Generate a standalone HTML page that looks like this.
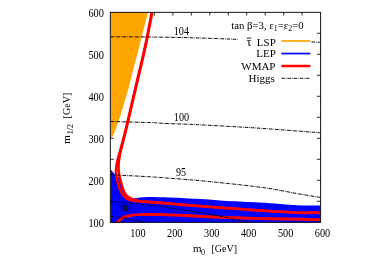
<!DOCTYPE html>
<html><head><meta charset="utf-8">
<style>
html,body{margin:0;padding:0;background:#fff;}
body{width:382px;height:267px;overflow:hidden;}
svg{display:block;will-change:transform;}
text{font-family:"Liberation Serif",serif;fill:#000;}
</style></head><body>
<svg width="382" height="267" viewBox="0 0 382 267">
<rect width="382" height="267" fill="#fff"/>
<defs><clipPath id="c"><rect x="110.5" y="12" width="210" height="210.8"/></clipPath></defs>
<path id="ticks" stroke="#1a1a1a" stroke-width="0.9" fill="none" d="M117.5,12.35v3.2M117.5,222.3v-3.2M136.0,12.35v3.2M136.0,222.3v-3.2M154.4,12.35v3.2M154.4,222.3v-3.2M172.9,12.35v3.2M172.9,222.3v-3.2M191.3,12.35v3.2M191.3,222.3v-3.2M209.8,12.35v3.2M209.8,222.3v-3.2M228.3,12.35v3.2M228.3,222.3v-3.2M246.7,12.35v3.2M246.7,222.3v-3.2M265.2,12.35v3.2M265.2,222.3v-3.2M283.7,12.35v3.2M283.7,222.3v-3.2M302.1,12.35v3.2M302.1,222.3v-3.2M110.3,201.3h3.5M320.6,201.3h-3.7M110.3,180.3h3.5M320.6,180.3h-3.7M110.3,159.3h3.5M320.6,159.3h-3.7M110.3,138.3h3.5M320.6,138.3h-3.7M110.3,117.3h3.5M320.6,117.3h-3.7M110.3,96.3h3.5M320.6,96.3h-3.7M110.3,75.3h3.5M320.6,75.3h-3.7M110.3,54.3h3.5M320.6,54.3h-3.7M110.3,33.3h3.5M320.6,33.3h-3.7"/>
<g clip-path="url(#c)">
<!-- orange stau LSP -->
<path d="M110.5,12 L148,12 L139.4,46 L128.6,88 L120.4,116 L115.4,130 L112.8,136 L110.5,139.6 Z" fill="#ffa500"/>
<!-- blue LEP -->
<path d="M110.3,168.9 C111.1,169.8 113.7,172.9 114.9,174.2 C116.1,175.5 116.7,175.9 117.5,176.6 C118.3,177.3 119.0,176.8 119.8,178.5 C120.6,180.2 121.5,184.4 122.2,186.5 C122.9,188.6 123.3,189.8 123.9,191.2 C124.5,192.6 125.2,193.8 126.0,194.8 C126.8,195.8 127.8,196.8 128.9,197.4 C130.0,198.0 131.2,198.5 132.6,198.6 C133.9,198.7 135.3,198.2 137.0,198.0 C138.7,197.8 140.8,197.5 143.0,197.3 C145.2,197.2 147.2,197.1 150.0,197.1 C152.8,197.1 156.7,197.2 160.0,197.3 C163.3,197.4 165.8,197.4 170.0,197.6 C174.2,197.8 180.0,198.1 185.0,198.3 C190.0,198.6 194.2,198.8 200.0,199.1 C205.8,199.4 211.7,199.9 220.0,200.4 C228.3,200.9 241.7,201.6 250.0,202.1 C258.3,202.6 263.3,202.7 270.0,203.2 C276.7,203.6 284.7,204.3 290.0,204.7 C295.3,205.1 296.9,205.3 302.0,205.4 C307.1,205.5 317.5,205.4 320.6,205.4 L320.6,223 L110.5,223 Z" fill="#0000ff"/>
<!-- WMAP -->
<g fill="none" stroke="#ff0000" stroke-width="2.5" stroke-linejoin="round">
<path d="M151.7,12.0 C150.6,17.7 147.8,33.3 145.1,46.0 C142.4,58.7 138.6,74.0 135.3,88.0 C132.0,102.0 128.1,119.5 125.5,130.0 C123.0,140.5 121.3,146.0 120.0,151.0 C118.7,156.0 118.2,156.8 117.5,160.0 C116.8,163.2 116.2,167.3 116.0,170.0 C115.8,172.7 115.8,173.2 116.3,176.0 C116.8,178.8 118.0,183.9 118.8,186.5 C119.6,189.1 120.1,190.0 120.9,191.6 C121.7,193.2 122.6,194.7 123.7,195.9 C124.8,197.1 126.0,198.1 127.3,198.9 C128.6,199.7 130.1,200.1 131.5,200.5 C132.9,200.9 134.1,200.9 135.5,201.1 C136.9,201.3 137.6,201.4 140.0,201.5 C142.4,201.7 146.7,202.0 150.0,202.2 C153.3,202.5 155.0,202.6 160.0,203.0 C165.0,203.4 173.3,204.1 180.0,204.7 C186.7,205.2 193.3,205.7 200.0,206.2 C206.7,206.7 211.7,207.1 220.0,207.7 C228.3,208.3 241.7,209.3 250.0,209.9 C258.3,210.5 263.3,210.8 270.0,211.2 C276.7,211.5 284.7,211.9 290.0,212.2 C295.3,212.5 299.0,212.8 302.0,212.9 C305.0,213.0 306.2,213.0 308.0,212.9 C309.8,212.8 311.5,212.3 313.0,212.2 C314.5,212.2 315.7,212.4 317.0,212.6 C318.3,212.8 320.0,213.3 320.6,213.4"/>
<path d="M152.3,12.0 C151.2,17.7 148.4,33.3 145.7,46.0 C143.0,58.7 139.2,74.0 135.9,88.0 C132.6,102.0 128.6,119.5 126.1,130.0 C123.6,140.5 122.0,146.0 120.8,151.0 C119.6,156.0 119.4,156.8 119.0,160.0 C118.6,163.2 118.5,167.3 118.6,170.0 C118.7,172.7 118.8,173.2 119.4,176.0 C120.0,178.8 121.5,184.0 122.2,186.5 C123.0,189.0 123.3,189.8 123.9,191.2 C124.5,192.6 125.2,193.8 126.0,194.8 C126.8,195.8 127.8,196.7 128.9,197.4 C130.0,198.1 131.4,198.7 132.6,199.1 C133.8,199.5 134.8,199.6 136.0,199.9 C137.2,200.2 137.7,200.8 140.0,201.2 C142.3,201.5 146.7,201.6 150.0,201.9 C153.3,202.1 155.0,202.2 160.0,202.6 C165.0,203.0 173.3,203.8 180.0,204.3 C186.7,204.9 193.3,205.4 200.0,206.0 C206.7,206.5 211.7,206.9 220.0,207.5 C228.3,208.1 241.7,209.1 250.0,209.7 C258.3,210.3 263.3,210.6 270.0,211.0 C276.7,211.5 284.7,211.9 290.0,212.2 C295.3,212.5 299.0,212.7 302.0,212.8 C305.0,212.9 306.2,213.0 308.0,212.9 C309.8,212.8 311.5,212.2 313.0,212.2 C314.5,212.1 315.7,212.4 317.0,212.6 C318.3,212.8 320.0,213.3 320.6,213.4"/>
<path d="M113.8,226.1 C114.5,225.4 116.8,223.1 117.8,222.1 C118.8,221.1 119.3,220.5 120.1,219.8 C120.9,219.1 121.8,218.2 122.7,217.7 C123.6,217.2 124.4,216.9 125.5,216.6 C126.6,216.3 127.8,216.1 129.1,215.8 C130.4,215.5 131.8,215.2 133.6,214.9 C135.4,214.7 137.3,214.6 140.0,214.6 C142.7,214.5 146.7,214.5 150.0,214.4 C153.3,214.4 155.0,214.4 160.0,214.5 C165.0,214.6 173.3,215.0 180.0,215.3 C186.7,215.6 193.3,216.0 200.0,216.3 C206.7,216.6 210.8,217.0 220.0,217.3 C229.2,217.7 245.8,218.1 255.0,218.4 C264.2,218.7 267.2,218.7 275.0,218.8 C282.8,219.0 294.4,219.1 302.0,219.3 C309.6,219.5 317.5,219.7 320.6,219.8" stroke-width="2.9"/>
</g>
<!-- higgs contours -->
<g fill="none" stroke="#000" stroke-width="0.95" stroke-dasharray="3.6 0.9 0.7 0.9">
<path d="M110.5,36.8 C117.1,36.8 140.4,36.9 150.0,37.0 C159.6,37.1 160.3,37.1 168.0,37.3 C175.7,37.4 184.4,37.5 196.0,37.9 C207.6,38.2 230.6,39.1 237.5,39.4"/>
<path d="M311.5,41.9 C313.0,42.0 319.1,42.2 320.6,42.3"/>
<path d="M110.5,121.5 C117.1,121.7 140.4,122.2 150.0,122.6 C159.6,122.9 160.3,123.3 168.0,123.6 C175.7,123.9 184.0,124.0 196.0,124.6 C208.0,125.2 226.0,126.2 240.0,127.0 C254.0,127.8 266.6,128.7 280.0,129.7 C293.4,130.7 313.8,132.3 320.6,132.8"/>
<path d="M110.5,174.8 C117.1,175.1 140.4,176.2 150.0,176.8 C159.6,177.4 160.3,177.5 168.0,178.1 C175.7,178.7 184.0,179.2 196.0,180.3 C208.0,181.4 227.7,183.4 240.0,184.8 C252.3,186.2 260.7,187.2 270.0,188.6 C279.3,190.0 287.6,191.9 296.0,193.4 C304.4,194.9 316.5,196.8 320.6,197.5"/>
<path d="M110.5,201.4 C115.4,201.9 131.8,203.4 140.0,204.2 C148.2,205.0 152.5,205.3 160.0,206.3 C167.5,207.3 176.9,208.9 185.0,210.2 C193.1,211.5 201.0,212.7 208.5,214.0 C216.0,215.3 223.3,216.8 230.0,218.2 C236.7,219.6 245.5,221.6 248.6,222.3"/>
<path d="M110.5,216.4 C112.5,216.6 119.2,217.2 122.7,217.7 C126.2,218.2 128.8,218.9 131.7,219.5 C134.6,220.1 137.7,220.7 140.0,221.2 C142.3,221.7 144.6,222.2 145.5,222.4"/>
</g>
</g>
<!-- frame & ticks -->

<rect x="110.35" y="12.35" width="210.25" height="209.95" stroke="#111" stroke-width="1" fill="none"/>
<!-- legend lines -->
<line x1="281.4" x2="310.3" y1="41" y2="41" stroke="#ffa500" stroke-width="1.7"/>
<line x1="281.4" x2="310.3" y1="53.55" y2="53.55" stroke="#0000ff" stroke-width="1.7"/>
<line x1="281.4" x2="310.3" y1="66" y2="66" stroke="#ff0000" stroke-width="2.5"/>
<line x1="281.4" x2="310.3" y1="78.3" y2="78.3" stroke="#000" stroke-width="0.9" stroke-dasharray="3.6 0.9 0.7 0.9"/>
<g font-size="11px">
<text x="303.6" y="28.7" text-anchor="end" textLength="72.4" lengthAdjust="spacingAndGlyphs">tan β=3, ε<tspan font-size="8px" dy="2.2">1</tspan><tspan dy="-2.2">=ε</tspan><tspan font-size="8px" dy="2.2">2</tspan><tspan dy="-2.2">=0</tspan></text>
<text x="246.5" y="46" font-size="12.5px">τ</text><text x="275.8" y="46" text-anchor="end">LSP</text>
<text x="275.8" y="57.2" text-anchor="end">LEP</text>
<text x="275.5" y="69.7" text-anchor="end">WMAP</text>
<text x="274.8" y="81.8" text-anchor="end">Higgs</text>
<!-- y tick labels -->
<g font-size="11.6px">
<text x="88.4" y="16.95" textLength="15.5" lengthAdjust="spacingAndGlyphs">600</text>
<text x="88.4" y="58.85" textLength="15.5" lengthAdjust="spacingAndGlyphs">500</text>
<text x="88.4" y="100.85" textLength="15.5" lengthAdjust="spacingAndGlyphs">400</text>
<text x="88.4" y="142.85" textLength="15.5" lengthAdjust="spacingAndGlyphs">300</text>
<text x="88.4" y="184.85" textLength="15.5" lengthAdjust="spacingAndGlyphs">200</text>
<text x="88.4" y="226.85" textLength="15.5" lengthAdjust="spacingAndGlyphs">100</text>
<text x="130.2" y="236.9" textLength="15.4" lengthAdjust="spacingAndGlyphs">100</text>
<text x="167.1" y="236.9" textLength="15.4" lengthAdjust="spacingAndGlyphs">200</text>
<text x="204.0" y="236.9" textLength="15.4" lengthAdjust="spacingAndGlyphs">300</text>
<text x="240.9" y="236.9" textLength="15.4" lengthAdjust="spacingAndGlyphs">400</text>
<text x="277.9" y="236.9" textLength="15.4" lengthAdjust="spacingAndGlyphs">500</text>
<text x="314.8" y="236.9" textLength="15.4" lengthAdjust="spacingAndGlyphs">600</text>
</g>
<!-- contour labels -->
<g font-size="11.6px">
<text x="173.7" y="34.9" textLength="15.3" lengthAdjust="spacingAndGlyphs">104</text>
<text x="173.8" y="121.1" textLength="15.3" lengthAdjust="spacingAndGlyphs">100</text>
<text x="175.9" y="176.4" textLength="10.1" lengthAdjust="spacingAndGlyphs">95</text>
<text x="120.3" y="212" textLength="10.3" lengthAdjust="spacingAndGlyphs">90</text>
</g>
<!-- axis labels -->
<text x="193" y="251.7">m</text>
<text x="201.1" y="254.7" font-size="8px">0</text>
<text x="211.4" y="251.7" textLength="25.6" lengthAdjust="spacingAndGlyphs">[GeV]</text>
<g transform="translate(69.9,143.7) rotate(-90)">
<text x="0" y="0">m</text>
<text x="9.5" y="3" font-size="8px">1/2</text>
<text x="25.3" y="0" textLength="25.7" lengthAdjust="spacingAndGlyphs">[GeV]</text>
</g>
</g>
<path d="M247,38.5 q1.1,-1.1 2.2,-0.4 q1.1,0.7 2.2,-0.4" stroke="#000" stroke-width="0.9" fill="none"/>
</svg>
</body></html>
